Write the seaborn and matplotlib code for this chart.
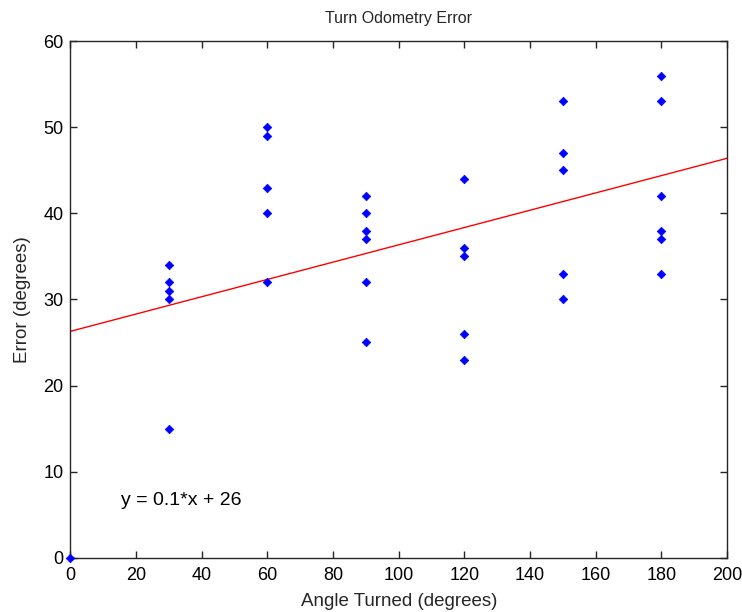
import matplotlib
matplotlib.use("Agg")
import matplotlib.pyplot as plt
import seaborn as sns
import pandas as pd
import numpy as np

# ---- data ----
angle_turned = [0,
                30, 30, 30, 30, 30,
                60, 60, 60, 60, 60,
                90, 90, 90, 90, 90, 90,
                120, 120, 120, 120, 120,
                150, 150, 150, 150, 150,
                180, 180, 180, 180, 180, 180]
error_deg = [0,
             34, 32, 31, 30, 15,
             50, 49, 43, 40, 32,
             42, 40, 38, 37, 32, 25,
             44, 36, 35, 26, 23,
             53, 47, 45, 33, 30,
             56, 53, 42, 38, 37, 33]
fit_slope = 0.1005
fit_intercept = 26.3
fit_label = "y = 0.1*x + 26"
x_ticks = [0, 20, 40, 60, 80, 100, 120, 140, 160, 180, 200]
y_ticks = [0, 10, 20, 30, 40, 50, 60]
title = "Turn Odometry Error"
x_label = "Angle Turned (degrees)"
y_label = "Error (degrees)"

df = pd.DataFrame({"angle": angle_turned, "error": error_deg})

sns.set_theme(style="white")
plt.rcParams["font.family"] = ["Liberation Sans", "DejaVu Sans"]
plt.rcParams["xtick.direction"] = "in"
plt.rcParams["ytick.direction"] = "in"

fig = plt.figure(figsize=(7.42, 6.12), dpi=100)
ax = fig.add_axes([0.095, 0.0887, 0.885, 0.844])

ax.set_xlim(0, 200)
ax.set_ylim(0, 60)

fit_x = np.array([0, 200])
ax.plot(fit_x, fit_slope * fit_x + fit_intercept, color="#ff0000", lw=1.0, zorder=2)

sns.scatterplot(data=df, x="angle", y="error", ax=ax, marker="D", s=19,
                color="#0000ff", edgecolor="#0000ff", linewidth=0.5,
                zorder=3, clip_on=False)

ax.text(15.3, 6.6, fit_label, fontsize=14, va="center", ha="left", color="black")

ax.set_xticks(x_ticks)
ax.set_yticks(y_ticks)
ax.tick_params(axis="both", which="both", direction="in", length=5, width=1,
               colors="#262626", labelsize=13, top=True, right=True,
               bottom=True, left=True, labelcolor="black")
ax.tick_params(axis="x", pad=7)
ax.tick_params(axis="y", pad=5)
for sp in ax.spines.values():
    sp.set_color("#262626")
    sp.set_linewidth(1.0)

ax.set_title(title, fontsize=11.5, pad=13)
ax.set_xlabel(x_label, fontsize=13.5, labelpad=6)
ax.set_ylabel(y_label, fontsize=13.5, labelpad=9)

fig.savefig("out.png", dpi=100)
